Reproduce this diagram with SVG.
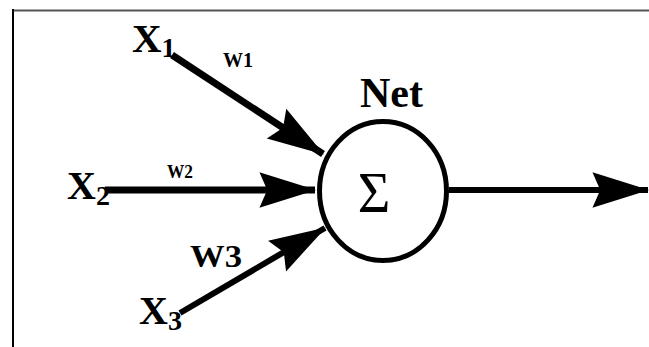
<svg xmlns="http://www.w3.org/2000/svg" width="649" height="347" viewBox="0 0 649 347">
<defs>
<style>
.t{font-family:"Liberation Serif","Times New Roman",serif;fill:#000}
.b{font-weight:bold}
.c{stroke:#000;fill:none}
</style>
<marker id="ah" markerUnits="userSpaceOnUse" orient="auto" markerWidth="60" markerHeight="40" viewBox="-52 -18 54 36" refX="0" refY="0">
<path d="M1,0 L-50,-16 L-43,0 L-50,16 Z" fill="#000"/>
</marker>
</defs>
<rect width="649" height="347" fill="#fff"/>
<g id="frame">
<line x1="12" y1="10.5" x2="649" y2="10.5" stroke="#555" stroke-width="2"/>
<line x1="13" y1="9" x2="13" y2="347" stroke="#000" stroke-width="2"/>
</g>
<g id="connectors">
<line class="c" x1="172" y1="55" x2="323" y2="154" stroke-width="7" marker-end="url(#ah)"/>
<line class="c" x1="105" y1="190" x2="315" y2="190" stroke-width="7" marker-end="url(#ah)"/>
<line class="c" x1="180" y1="313" x2="325" y2="228" stroke-width="6" marker-end="url(#ah)"/>
<line class="c" x1="449" y1="190" x2="648" y2="190" stroke-width="6" marker-end="url(#ah)"/>
</g>
<g id="net">
<ellipse cx="383" cy="191" rx="63.5" ry="69.5" fill="#fff" stroke="#000" stroke-width="5"/>
<text class="t" x="374" y="212" font-size="56" text-anchor="middle">Σ</text>
<text class="t b" x="360" y="107" font-size="42">Net</text>
</g>
<g id="x1">
<text class="t b" x="132" y="52" font-size="41">X<tspan font-size="28" dy="5">1</tspan></text>
</g>
<g id="x2">
<text class="t b" x="67" y="199" font-size="40">X<tspan font-size="28" dy="6">2</tspan></text>
</g>
<g id="x3">
<text class="t b" x="139" y="324" font-size="40">X<tspan font-size="28" dy="6">3</tspan></text>
</g>
<g id="weights">
<text class="t b" x="223" y="67" font-size="22" textLength="30" lengthAdjust="spacingAndGlyphs">W1</text>
<text class="t b" x="167" y="178" font-size="18" textLength="26" lengthAdjust="spacingAndGlyphs">W2</text>
<text class="t b" x="190" y="267" font-size="32" textLength="52" lengthAdjust="spacingAndGlyphs">W3</text>
</g>
</svg>
